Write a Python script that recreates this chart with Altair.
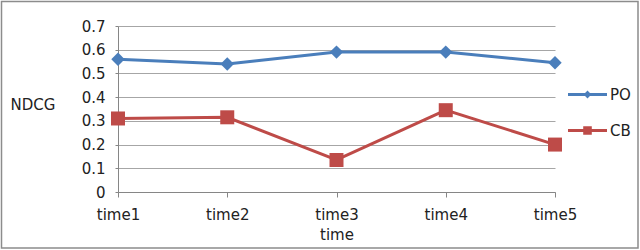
import altair as alt
import pandas as pd

times = ["time1", "time2", "time3", "time4", "time5"]
po_values = [0.56, 0.54, 0.59, 0.59, 0.545]
cb_values = [0.31, 0.315, 0.135, 0.345, 0.2]
series = ["PO", "CB"]
colors = ["#4A7EBB", "#BE4B48"]
y_ticks = [0, 0.1, 0.2, 0.3, 0.4, 0.5, 0.6, 0.7]

rows = []
for t, v in zip(times, po_values):
    rows.append({"time": t, "series": "PO", "value": v})
for t, v in zip(times, cb_values):
    rows.append({"time": t, "series": "CB", "value": v})
df = pd.DataFrame(rows)

FONT = "DejaVu Sans"

x = alt.X("time:N", sort=times,
          scale=alt.Scale(type="point", padding=0),
          axis=alt.Axis(title="time", labelAngle=0, tickSize=5, labelPadding=10,
                        titlePadding=5, domainColor="#868686", tickColor="#868686",
                        labelFont=FONT, labelFontSize=15, labelColor="#222",
                        titleFont=FONT, titleFontSize=15, titleFontWeight="normal",
                        titleColor="#222", grid=False))
y = alt.Y("value:Q", scale=alt.Scale(domain=[0, 0.7], nice=False),
          axis=alt.Axis(title="NDCG", values=y_ticks, format=".1~f", tickSize=3,
                        labelPadding=10, domainColor="#868686", tickColor="#868686",
                        gridColor="#a6a6a6", labelFont=FONT, labelFontSize=15,
                        labelColor="#222", titleFont=FONT, titleFontSize=15,
                        titleFontWeight="normal", titleColor="#222", titleAngle=0,
                        titleAlign="left", titleBaseline="middle",
                        titleX=-108, titleY=78))
color_nolegend = alt.Color("series:N", scale=alt.Scale(domain=series, range=colors), legend=None)

base = alt.Chart(df)

lines = base.mark_line(strokeWidth=3).encode(x=x, y=y, color=color_nolegend)

po_pts = base.transform_filter(alt.datum.series == "PO").mark_point(
    shape="diamond", filled=True, size=180, opacity=1).encode(x=x, y=y, color=color_nolegend)
cb_pts = base.transform_filter(alt.datum.series == "CB").mark_point(
    shape="square", filled=True, size=196, opacity=1).encode(x=x, y=y, color=color_nolegend)

po_path = "M-1,-0.075H1V0.075H-1Z M0,-0.2L0.2,0L0,0.2L-0.2,0Z"
cb_path = "M-1,-0.075H1V0.075H-1Z M-0.22,-0.22H0.22V0.22H-0.22Z"

leg = alt.Legend(orient="none", legendX=450, legendY=49, title=None,
                 symbolSize=1521, symbolStrokeWidth=0, symbolOpacity=1,
                 labelFont=FONT, labelFontSize=15, labelColor="#222",
                 labelOffset=3, rowPadding=8, padding=0)

legend_layer = base.mark_point(filled=True, opacity=0).encode(
    x=x, y=y,
    color=alt.Color("series:N", scale=alt.Scale(domain=series, range=colors), legend=leg),
    shape=alt.Shape("series:N", scale=alt.Scale(domain=series, range=[po_path, cb_path]), legend=leg),
)

border = alt.Chart(pd.DataFrame({"a": [0]})).mark_rect(
    fill=None, stroke="#8c8c8c", strokeWidth=1.5, clip=False).encode(
    x=alt.value(-116.5), x2=alt.value(520), y=alt.value(-24.5), y2=alt.value(222))

chart = alt.layer(legend_layer, border, lines, po_pts, cb_pts).properties(
    width=437, height=166,
    autosize=alt.AutoSizeParams(type="none"),
    padding={"left": 118, "top": 26, "right": 85, "bottom": 58},
).configure_view(stroke=None)

chart.save("out.html", embed_options={"renderer": "svg", "actions": False})
